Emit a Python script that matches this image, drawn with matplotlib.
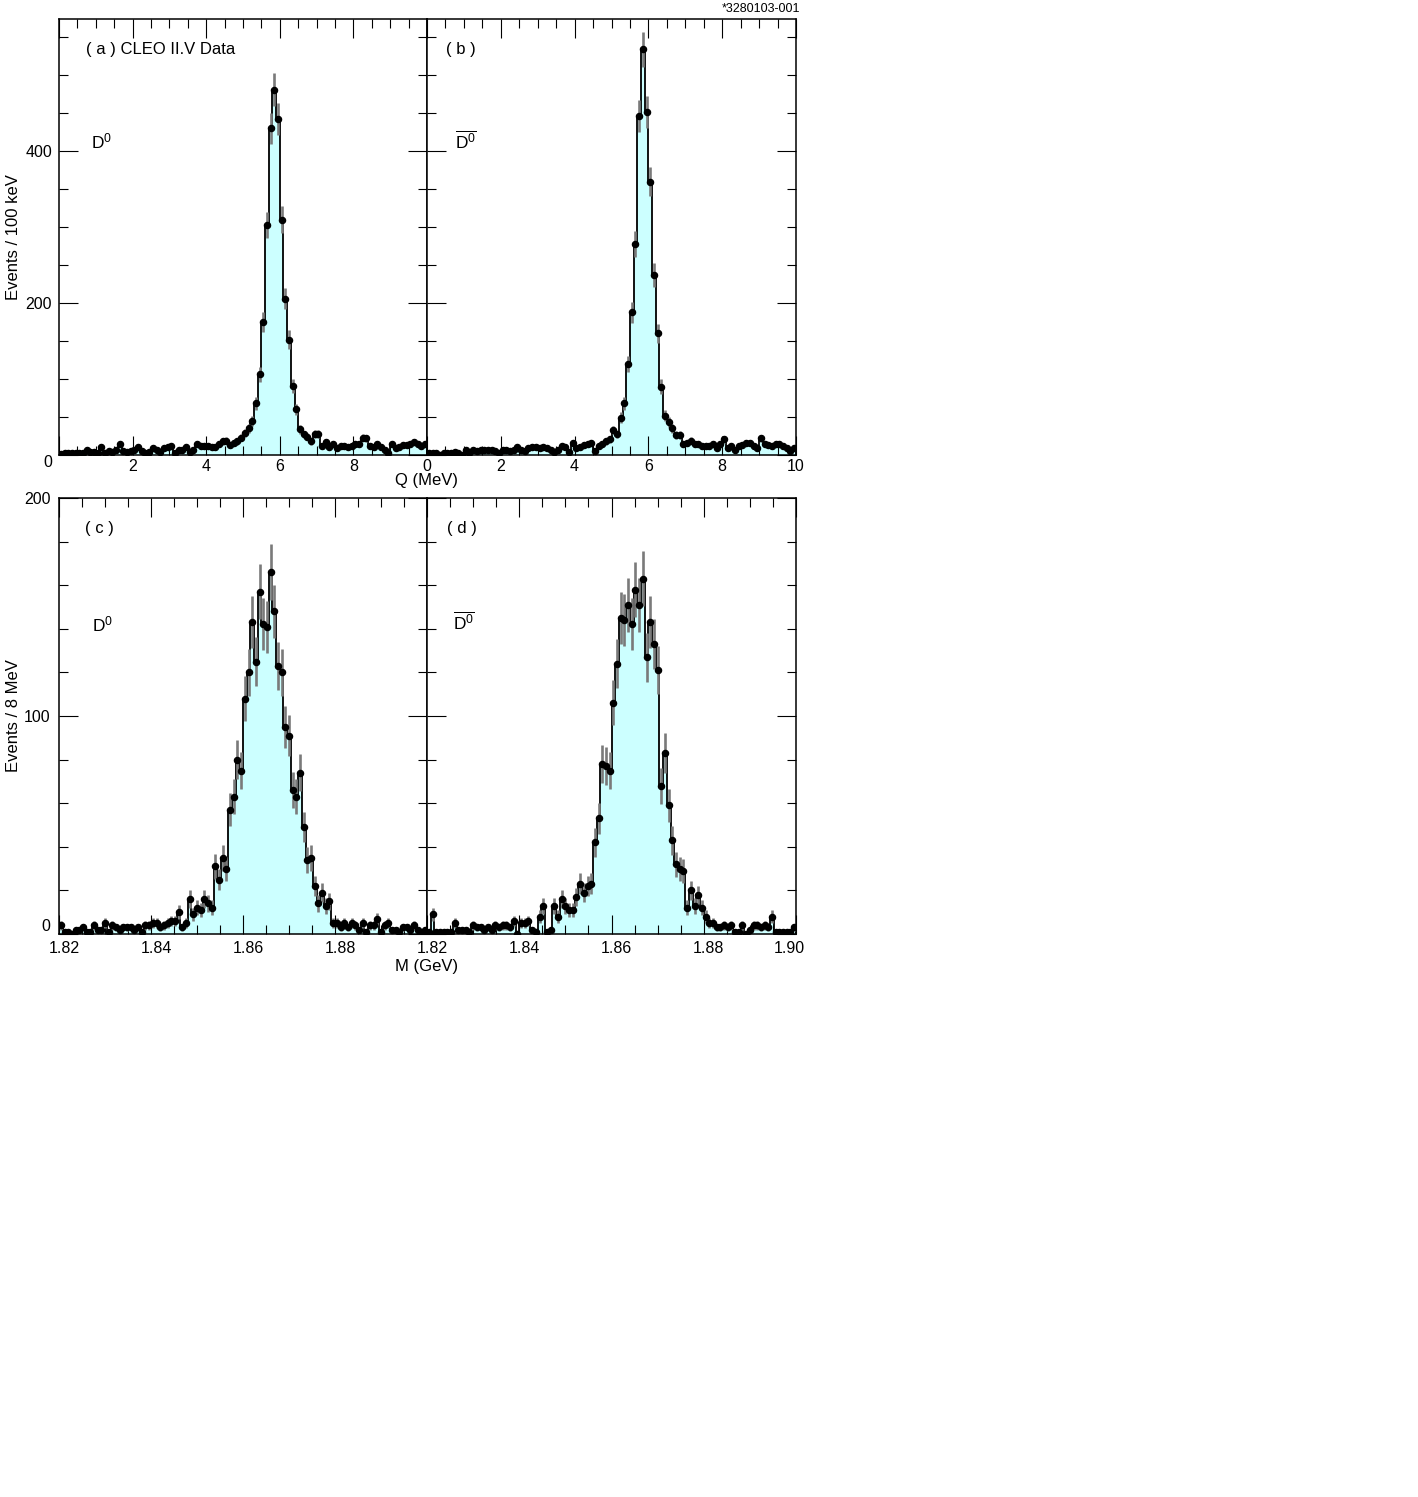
import numpy as np
import matplotlib
matplotlib.use('Agg')
import matplotlib.pyplot as plt
import matplotlib.transforms as mtrans
from matplotlib.ticker import MultipleLocator

plt.rcParams['font.family'] = ['Liberation Sans', 'DejaVu Sans']
plt.rcParams['mathtext.fontset'] = 'custom'
plt.rcParams['mathtext.rm'] = 'Liberation Sans'
plt.rcParams['mathtext.it'] = 'Liberation Sans'

# Q distributions, 0.1 MeV bins from 0 to 10 MeV
q_lo, q_hi, q_nbins = 0.0, 10.0, 100
q_d0 = [1, 2, 3, 3, 3, 2, 3, 6, 4, 4,
        3, 10, 2, 5, 4, 6, 15, 5, 4, 5,
        6, 10, 5, 3, 4, 9, 6, 4, 9, 11,
        12, 3, 6, 6, 11, 4, 7, 15, 12, 12,
        12, 10, 11, 14, 18, 19, 13, 16, 18, 23,
        29, 35, 45, 68, 106, 175, 303, 430, 481, 442,
        310, 206, 152, 91, 60, 34, 27, 24, 18, 28,
        28, 12, 17, 11, 15, 9, 12, 12, 11, 12,
        15, 14, 23, 22, 12, 11, 14, 11, 6, 3,
        15, 9, 10, 13, 13, 14, 17, 14, 12, 15]
q_d0bar = [3, 2, 3, 0, 2, 3, 3, 4, 2, 0,
           6, 3, 6, 5, 6, 7, 7, 6, 5, 3,
           6, 6, 5, 7, 11, 6, 5, 9, 11, 10,
           9, 10, 9, 6, 4, 7, 12, 10, 4, 16,
           9, 11, 13, 14, 16, 5, 12, 14, 18, 21,
           33, 27, 49, 68, 120, 188, 278, 446, 534, 452,
           360, 237, 160, 90, 52, 43, 35, 26, 26, 15,
           16, 19, 14, 15, 12, 12, 12, 15, 9, 14,
           21, 9, 12, 7, 12, 13, 16, 16, 12, 9,
           22, 15, 13, 12, 14, 15, 12, 9, 5, 9]

# mass distributions, 100 bins from 1.82 to 1.90 GeV
m_lo, m_hi, m_nbins = 1.82, 1.90, 100
m_d0 = [4, 1, 1, 0, 2, 2, 3, 1, 1, 4,
        2, 2, 5, 1, 4, 3, 2, 3, 3, 3,
        2, 3, 1, 4, 4, 5, 5, 3, 4, 5,
        6, 6, 10, 3, 5, 16, 9, 12, 11, 16,
        14, 12, 31, 25, 35, 30, 57, 63, 80, 75,
        108, 120, 143, 125, 157, 142, 141, 166, 148, 123,
        120, 95, 91, 66, 63, 74, 49, 34, 35, 22,
        14, 19, 13, 15, 5, 5, 3, 5, 3, 5,
        4, 2, 5, 1, 4, 4, 7, 1, 4, 5,
        2, 2, 1, 3, 3, 2, 4, 2, 0, 2]
m_d0bar = [1, 9, 1, 1, 1, 1, 1, 5, 2, 2,
           2, 1, 4, 3, 3, 2, 3, 2, 4, 3,
           4, 4, 3, 6, 0, 5, 5, 6, 2, 1,
           8, 13, 1, 2, 13, 8, 16, 13, 11, 11,
           17, 23, 19, 22, 23, 42, 53, 78, 77, 75,
           106, 124, 145, 144, 151, 142, 158, 151, 163, 127,
           143, 133, 121, 68, 83, 59, 43, 32, 30, 29,
           12, 20, 13, 18, 12, 8, 5, 5, 3, 3,
           4, 3, 4, 1, 1, 4, 0, 2, 4, 4,
           3, 4, 3, 8, 1, 1, 1, 1, 1, 3]

q_ticks = [0, 2, 4, 6, 8, 10]
m_ticks = [1.82, 1.84, 1.86, 1.88, 1.90]

W, H = 1418, 1497
fig = plt.figure(figsize=(W / 100, H / 100), dpi=100)


def box(x0, y0, x1, y1):
    return [x0 / W, 1 - y1 / H, (x1 - x0) / W, (y1 - y0) / H]


ax_a = fig.add_axes(box(59, 19, 427, 455))
ax_b = fig.add_axes(box(427, 19, 796, 455))
ax_c = fig.add_axes(box(59, 498, 427, 934))
ax_d = fig.add_axes(box(427, 498, 796, 934))


def draw_hist(ax, vals, lo, hi, n):
    vals = np.asarray(vals, dtype=float)
    edges = np.linspace(lo, hi, n + 1)
    centers = 0.5 * (edges[:-1] + edges[1:])
    ax.stairs(vals, edges, fill=True, color='#ccffff', lw=0, zorder=1)
    ax.stairs(vals, edges, color='black', lw=1.3, zorder=2)
    ax.errorbar(centers, vals, yerr=np.sqrt(vals), fmt='none',
                ecolor='#7a7a7a', elinewidth=1.9, capsize=0, zorder=3)
    ax.plot(centers, vals, 'o', ms=4.4, color='black', zorder=4)


def style(ax):
    for s in ax.spines.values():
        s.set_linewidth(1.1)
    ax.tick_params(which='both', direction='in', top=True, right=True,
                   width=0.8, color='black', labelsize=11.5)
    ax.tick_params(which='major', length=13.5)
    ax.tick_params(which='minor', length=6.5)


draw_hist(ax_a, q_d0, q_lo, q_hi, q_nbins)
draw_hist(ax_b, q_d0bar, q_lo, q_hi, q_nbins)
draw_hist(ax_c, m_d0, m_lo, m_hi, m_nbins)
draw_hist(ax_d, m_d0bar, m_lo, m_hi, m_nbins)

for ax in (ax_a, ax_b):
    style(ax)
    ax.set_xlim(q_lo, q_hi)
    ax.set_ylim(0, 574)
    ax.set_xticks(q_ticks)
    ax.xaxis.set_minor_locator(MultipleLocator(0.5))
    ax.set_yticks([0, 200, 400])
    ax.yaxis.set_minor_locator(MultipleLocator(50))
    ax.tick_params(axis='x', pad=3)
    ax.tick_params(axis='y', pad=5)

for ax in (ax_c, ax_d):
    style(ax)
    ax.set_xlim(m_lo, m_hi)
    ax.set_ylim(0, 200)
    ax.set_xticks(m_ticks)
    ax.xaxis.set_minor_locator(MultipleLocator(0.005))
    ax.set_yticks([0, 100, 200])
    ax.yaxis.set_minor_locator(MultipleLocator(20))
    ax.tick_params(axis='x', pad=5)
    ax.tick_params(axis='y', pad=6)

ax_a.set_xticklabels(['', '2', '4', '6', '8', ''])
ax_b.set_xticklabels(['0', '2', '4', '6', '8', '10'])
ax_b.set_yticklabels([])
ax_c.set_xticklabels(['1.82', '1.84', '1.86', '1.88', ''])
ax_d.set_xticklabels(['1.82', '1.84', '1.86', '1.88', '1.90'])
ax_d.set_yticklabels([])

ylab_a = ax_a.get_yticklabels()
ylab_a[0].set_va('top')
ylab_c = ax_c.get_yticklabels()
ylab_c[0].set_va('bottom')

# PAW-style offset of the mass labels
shift = mtrans.ScaledTranslation(5 / 100, 0, fig.dpi_scale_trans)
back = mtrans.ScaledTranslation(-7 / 100, 0, fig.dpi_scale_trans)
for ax in (ax_c, ax_d):
    labs = ax.get_xticklabels()
    for i, lab in enumerate(labs):
        if i == len(labs) - 1:
            lab.set_transform(lab.get_transform() + back)
        else:
            lab.set_transform(lab.get_transform() + shift)

ax_a.set_ylabel('Events / 100 keV', fontsize=12)
ax_a.yaxis.set_label_coords(-0.104, 0.5)
ax_c.set_ylabel('Events / 8 MeV', fontsize=12)
ax_c.yaxis.set_label_coords(-0.104, 0.5)
ax_a.set_xlabel('Q (MeV)', fontsize=12)
ax_a.xaxis.set_label_coords(1.0, -0.042)
ax_c.set_xlabel('M (GeV)', fontsize=12)
ax_c.xaxis.set_label_coords(1.0, -0.057)

ax_a.text(0.073, 0.93, '( a ) CLEO II.V Data', transform=ax_a.transAxes,
          fontsize=12, va='center')
ax_b.text(0.052, 0.93, '( b )', transform=ax_b.transAxes, fontsize=12, va='center')
ax_c.text(0.07, 0.929, '( c )', transform=ax_c.transAxes, fontsize=12, va='center')
ax_d.text(0.054, 0.929, '( d )', transform=ax_d.transAxes, fontsize=12, va='center')

ax_a.text(0.087, 0.72, r'$\mathrm{D}^{0}$', transform=ax_a.transAxes,
          fontsize=12.5, va='center')
ax_b.text(0.076, 0.72, r'$\overline{\mathrm{D}^{0}}$', transform=ax_b.transAxes,
          fontsize=12.5, va='center')
ax_c.text(0.09, 0.71, r'$\mathrm{D}^{0}$', transform=ax_c.transAxes,
          fontsize=12.5, va='center')
ax_d.text(0.071, 0.716, r'$\overline{\mathrm{D}^{0}}$', transform=ax_d.transAxes,
          fontsize=12.5, va='center')

fig.text(800 / W, 1 - 12 / H, '*3280103-001', fontsize=9, ha='right', va='baseline')

fig.savefig('out.png', dpi=100)
